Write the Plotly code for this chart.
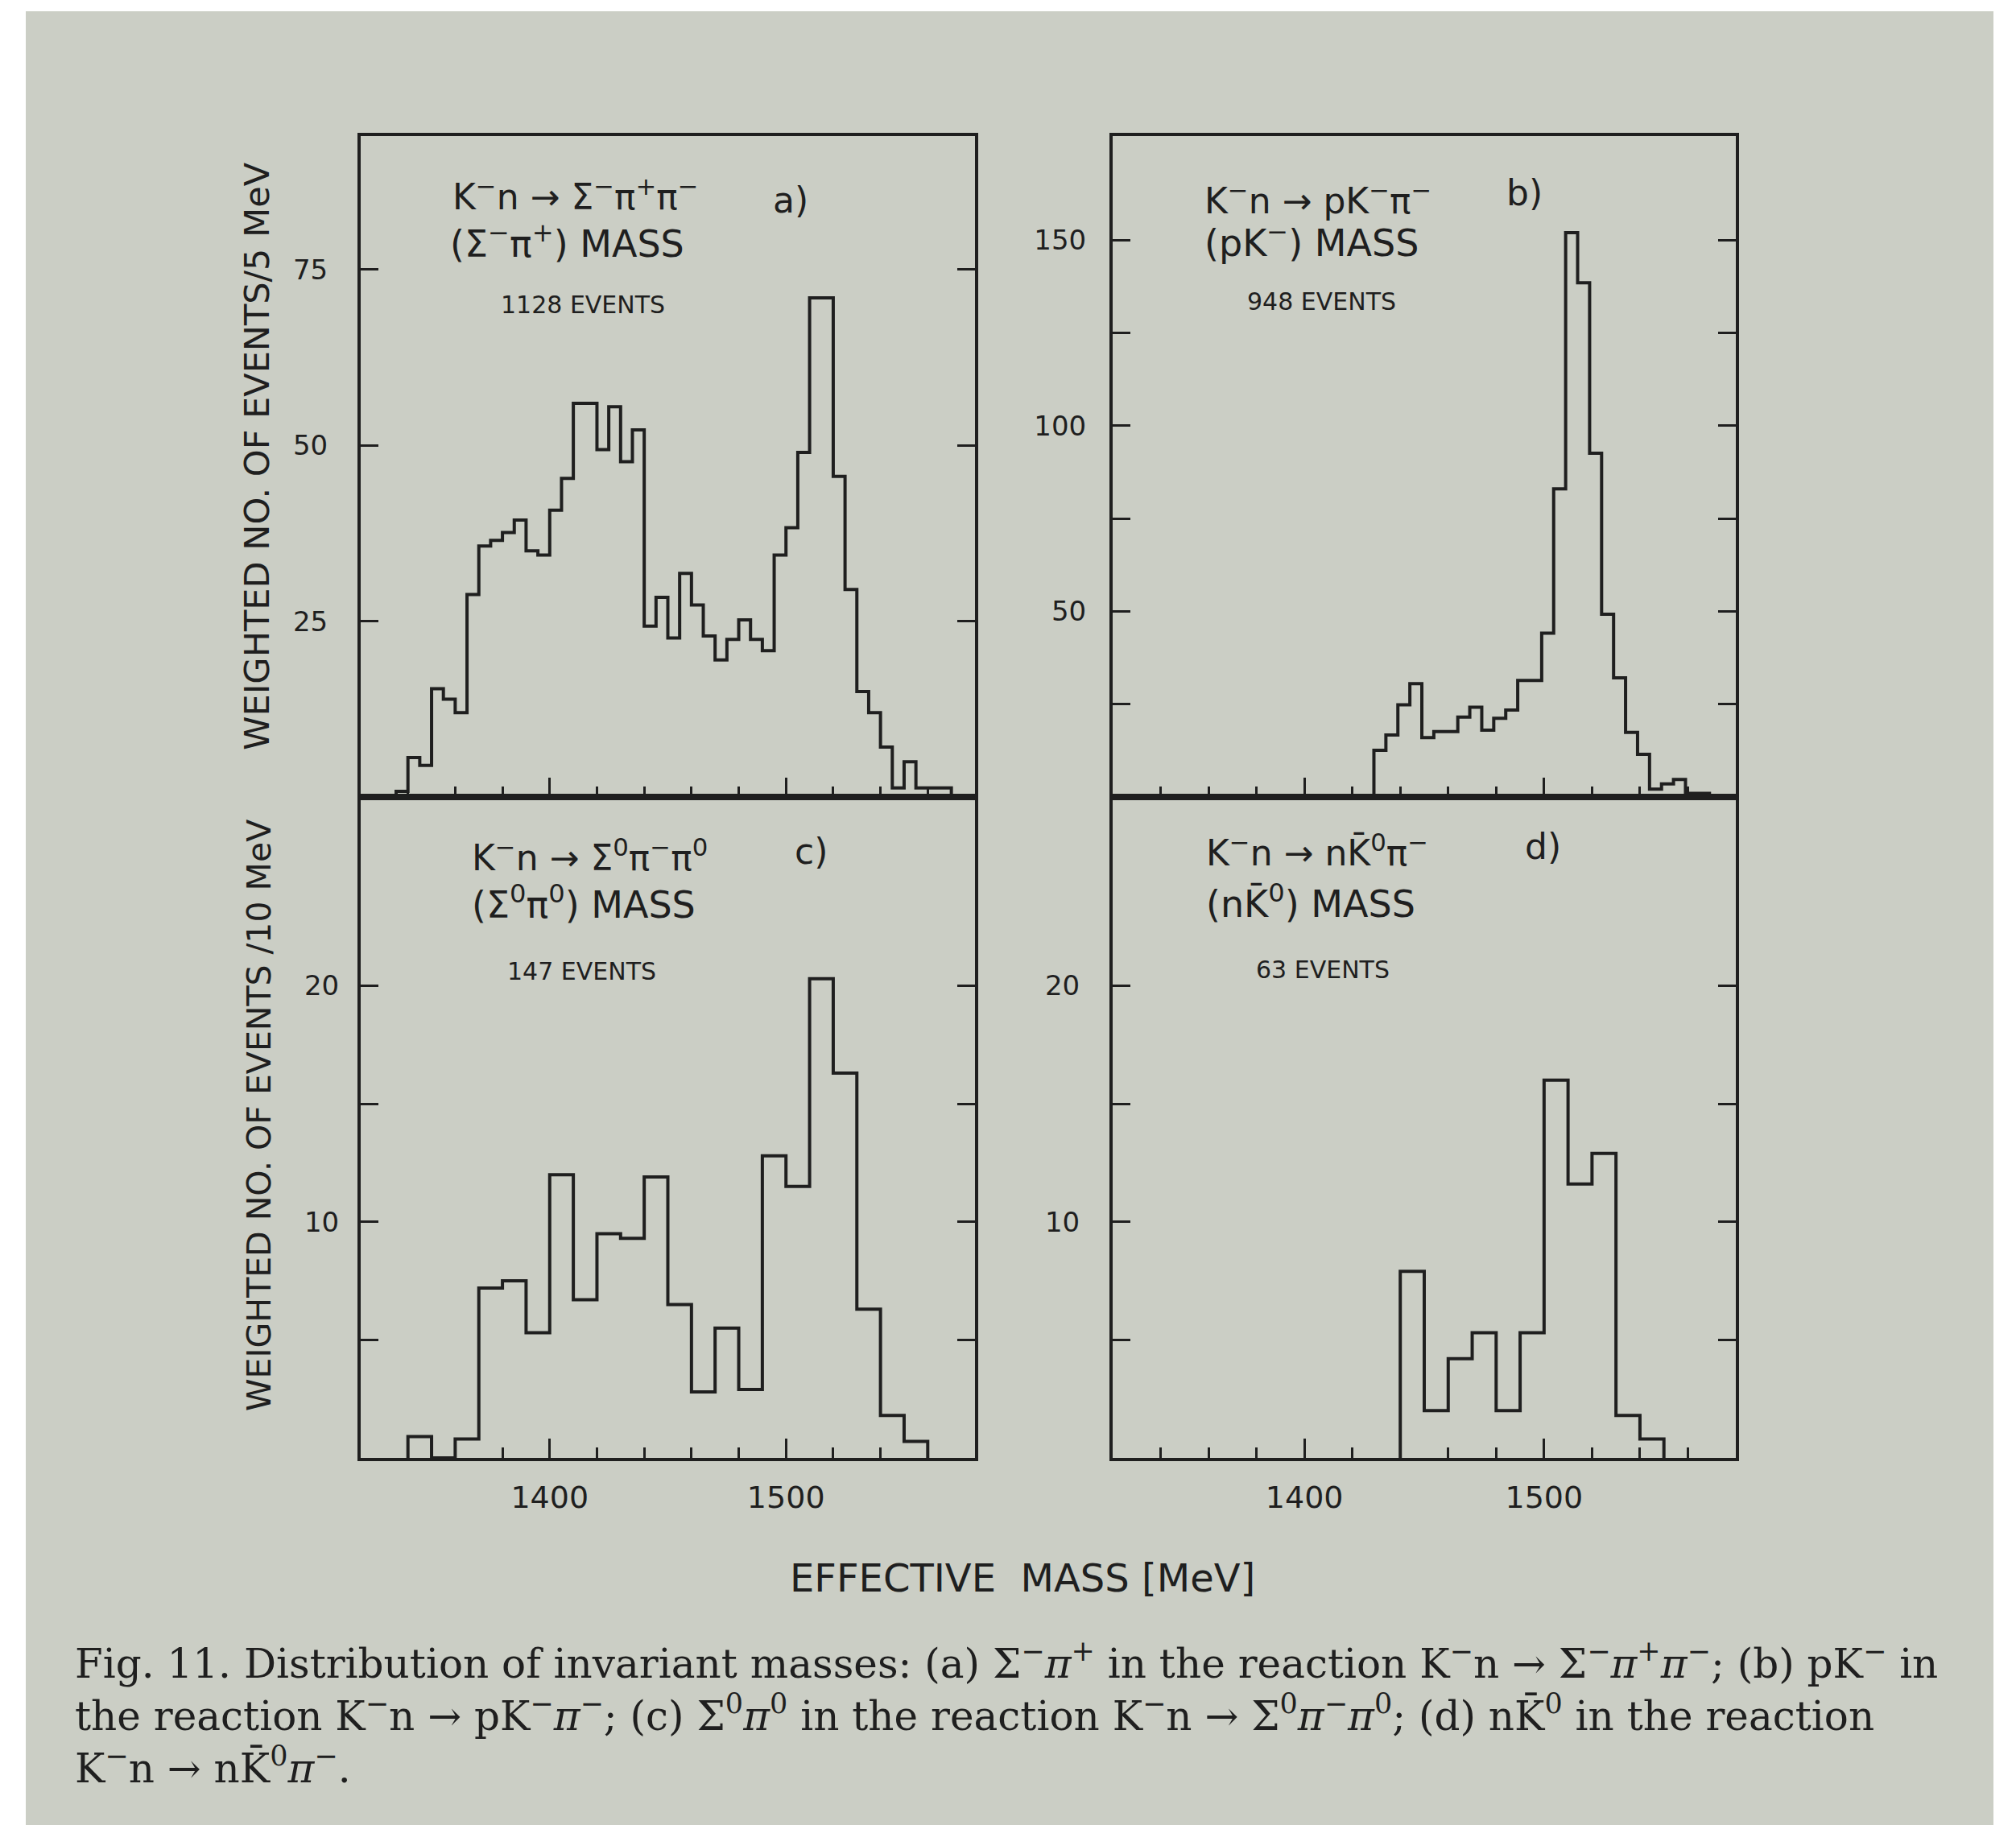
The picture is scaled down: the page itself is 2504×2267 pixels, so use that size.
import numpy as np
import plotly.graph_objects as go

W, H = 2504, 2267

# ---------------- data ----------------
# (a) (Σ⁻π⁺) mass in K⁻n → Σ⁻π⁺π⁻ ; weighted events / 5 MeV
A_FIRST = 1335
A_WIDTH = 5
A_COUNTS = [0.8, 5.6, 4.5, 15.4, 13.9, 12.0, 28.8, 35.7, 36.5, 37.6, 39.4, 35.0,
            34.4, 40.8, 45.3, 56.0, 56.0, 49.4, 55.5, 47.7, 52.2, 24.3, 28.4, 22.6,
            31.8, 27.3, 22.9, 19.5, 22.4, 25.2, 22.4, 20.8, 34.4, 38.3, 49.0, 71.0,
            71.0, 45.6, 29.5, 15.0, 12.0, 7.1, 1.3, 5.0, 1.3, 1.3, 1.3]

# (b) (pK⁻) mass in K⁻n → pK⁻π⁻ ; weighted events / 5 MeV
B_FIRST = 1429
B_WIDTH = 5
B_COUNTS = [12.6, 16.7, 24.8, 30.5, 16.0, 17.6, 17.6, 21.5, 24.2, 18.0, 21.2, 23.4,
            31.4, 31.4, 44.1, 83.0, 152.0, 138.5, 92.6, 49.2, 32.1, 17.4, 11.5, 2.1,
            3.5, 4.7, 1.0, 1.0]

# (c) (Σ⁰π⁰) mass in K⁻n → Σ⁰π⁻π⁰ ; weighted events / 10 MeV
C_FIRST = 1340
C_WIDTH = 10
C_COUNTS = [0.9, 0.0, 0.8, 7.2, 7.5, 5.3, 12.0, 6.7, 9.5, 9.3, 11.9, 6.5, 2.8, 5.5,
            2.9, 12.8, 11.5, 20.3, 16.3, 6.3, 1.8, 0.7]

# (d) (nK̄⁰) mass in K⁻n → nK̄⁰π⁻ ; weighted events / 10 MeV
D_FIRST = 1440
D_WIDTH = 10
D_COUNTS = [7.9, 2.0, 4.2, 5.3, 2.0, 5.3, 16.0, 11.6, 12.9, 1.8, 0.8]

X_RANGE = [1320, 1580]
Y_TICKS_A = [25, 50, 75]
Y_TICKS_B = [50, 100, 150]
Y_MINOR_B = [25, 75, 125]
Y_TICKS_CD = [10, 20]
Y_MINOR_CD = [5, 15]

# ---------------- style ----------------
INK = "#1f1f1f"
BG = "#cbcec5"
SANS = "DejaVu Sans"
SERIF = "DejaVu Serif"


def step_xy(first, width, counts):
    edges = first + width * np.arange(len(counts) + 1)
    x = [edges[0]] + list(edges[:-1]) + [edges[-1]]
    y = [0] + list(counts) + [0]
    return x, y


def px(x):
    return x / W


def py(y):
    return 1 - y / H


XL = [px(440), px(1203)]
XR = [px(1374), px(2148)]
YT = [py(982), py(161)]
YB = [py(1803), py(982)]

fig = go.Figure()

panels = [
    ("x", "y", A_FIRST, A_WIDTH, A_COUNTS),
    ("x2", "y2", B_FIRST, B_WIDTH, B_COUNTS),
    ("x3", "y3", C_FIRST, C_WIDTH, C_COUNTS),
    ("x4", "y4", D_FIRST, D_WIDTH, D_COUNTS),
]
for xa, ya, first, width, counts in panels:
    x, y = step_xy(first, width, counts)
    fig.add_trace(go.Scatter(x=x, y=y, mode="lines", xaxis=xa, yaxis=ya,
                             line=dict(shape="hv", color=INK, width=4),
                             showlegend=False, hoverinfo="skip"))


def xax(domain, anchor, labels):
    return dict(domain=domain, anchor=anchor, range=X_RANGE, showgrid=False,
                zeroline=False, showline=True, mirror=True, linecolor=INK,
                linewidth=4, ticks="inside", tickmode="linear", tick0=1400,
                dtick=100, ticklen=24, tickwidth=3, tickcolor=INK,
                minor=dict(dtick=20, tick0=1320, ticks="inside", ticklen=13,
                           tickwidth=3, tickcolor=INK, showgrid=False),
                showticklabels=labels,
                tickfont=dict(family=SANS, size=38, color=INK),
                ticklabelstandoff=12)


def yax(domain, anchor, rng, vals, minor_vals, standoff):
    d = dict(domain=domain, anchor=anchor, range=rng, showgrid=False,
             zeroline=False, showline=True, mirror="ticks", linecolor=INK,
             linewidth=4, ticks="inside", tickmode="array", tickvals=vals,
             ticklen=22, tickwidth=3, tickcolor=INK,
             tickfont=dict(family=SANS, size=34, color=INK),
             ticklabelstandoff=standoff)
    if minor_vals:
        d["minor"] = dict(tickmode="array", tickvals=minor_vals, ticks="inside",
                          ticklen=22, tickwidth=3, tickcolor=INK, showgrid=False)
    return d


fig.update_layout(
    width=W, height=H, margin=dict(l=0, r=0, t=0, b=0),
    paper_bgcolor="white", plot_bgcolor="rgba(0,0,0,0)",
    xaxis=xax(XL, "y", False),
    xaxis2=xax(XR, "y2", False),
    xaxis3=xax(XL, "y3", True),
    xaxis4=xax(XR, "y4", True),
    yaxis=yax(YT, "x", [0, 94], Y_TICKS_A, None, 30),
    yaxis2=yax(YT, "x2", [0, 178], Y_TICKS_B, Y_MINOR_B, 22),
    yaxis3=yax(YB, "x3", [0, 28], Y_TICKS_CD, Y_MINOR_CD, 16),
    yaxis4=yax(YB, "x4", [0, 28], Y_TICKS_CD, Y_MINOR_CD, 30),
    shapes=[dict(type="rect", xref="paper", yref="paper", x0=px(24), x1=px(2468),
                 y0=0, y1=py(6), fillcolor=BG, line=dict(width=0), layer="below")],
)


def note(x, y, text, size, family=SANS, anchor="left", angle=0, yanchor="middle"):
    fig.add_annotation(x=px(x), y=py(y), xref="paper", yref="paper", text=text,
                       showarrow=False, xanchor=anchor, yanchor=yanchor,
                       textangle=angle, align="left",
                       font=dict(family=family, size=size, color=INK))


S = "<sup>−</sup>"
# panel texts
note(552, 233, "K" + S + "n → Σ" + S + "π<sup>+</sup>π" + S, 44)
note(950, 240, "a)", 44)
note(549, 292, "(Σ" + S + "π<sup>+</sup>) MASS", 46)
note(612, 370, "1128 EVENTS", 30)

note(1486, 238, "K" + S + "n → pK" + S + "π" + S, 44)
note(1861, 232, "b)", 44)
note(1486, 291, "(pK" + S + ") MASS", 46)
note(1539, 366, "948 EVENTS", 30)

note(576, 1054, "K" + S + "n → Σ<sup>0</sup>π" + S + "π<sup>0</sup>", 44)
note(977, 1049, "c)", 44)
note(576, 1113, "(Σ<sup>0</sup>π<sup>0</sup>) MASS", 46)
note(620, 1199, "147 EVENTS", 30)

note(1488, 1048, "K" + S + "n → nK̄<sup>0</sup>π" + S, 44)
note(1884, 1043, "d)", 44)
note(1488, 1112, "(nK̄<sup>0</sup>) MASS", 46)
note(1550, 1196, "63 EVENTS", 30)

# axis titles
note(311, 559, "WEIGHTED NO. OF EVENTS/5 MeV", 43, anchor="center", angle=-90)
note(314, 1378, "WEIGHTED NO. OF EVENTS /10 MeV", 41, anchor="center", angle=-90)
note(1262, 1952, "EFFECTIVE  MASS [MeV]", 48, anchor="center")

# caption
PI = "<i>π</i>"
CAP = ("Fig. 11. Distribution of invariant masses: (a) Σ" + S + PI + "<sup>+</sup> in the reaction K"
       + S + "n → Σ" + S + PI + "<sup>+</sup>" + PI + S + "; (b) pK" + S + " in<br>"
       "the reaction K" + S + "n → pK" + S + PI + S + "; (c) Σ<sup>0</sup>" + PI
       + "<sup>0</sup> in the reaction K" + S + "n → Σ<sup>0</sup>" + PI + S + PI
       + "<sup>0</sup>; (d) nK̄<sup>0</sup> in the reaction<br>"
       "K" + S + "n → nK̄<sup>0</sup>" + PI + S + ".")
note(83, 2120, CAP, 50, family=SERIF)

fig.write_html("out.html")
